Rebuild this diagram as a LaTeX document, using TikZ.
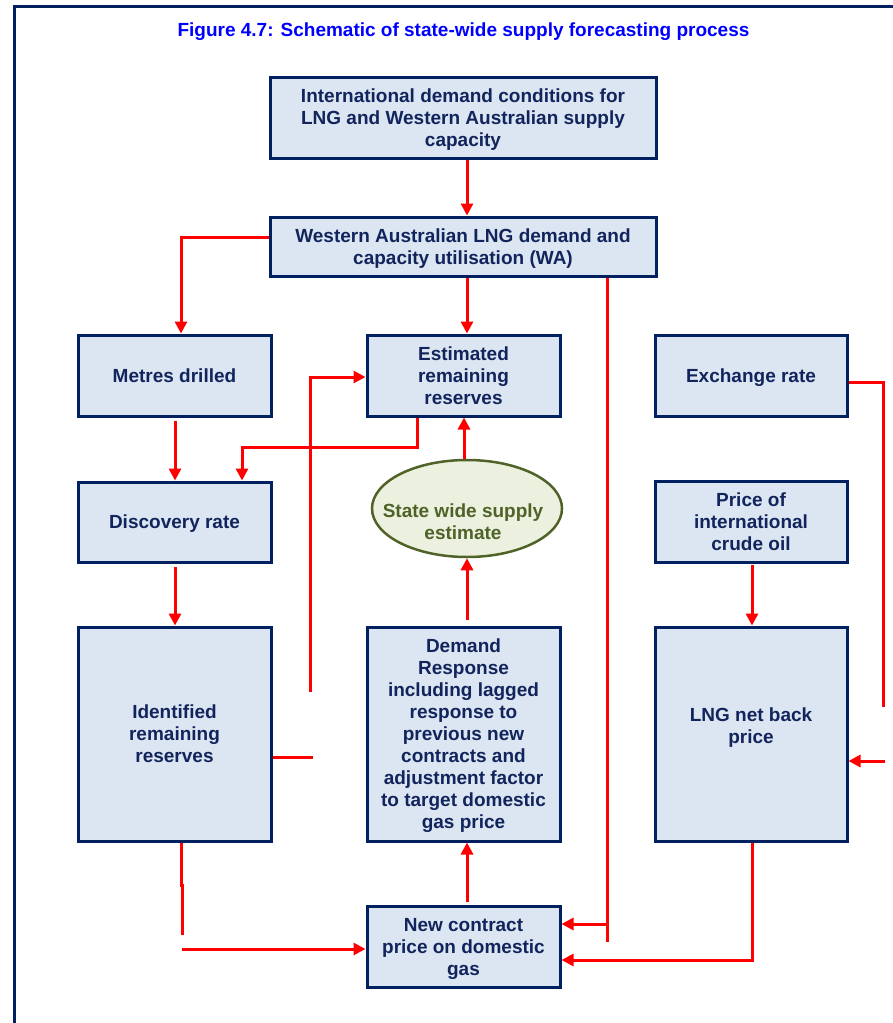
\documentclass[tikz,border=0pt]{standalone}
\usepackage{fontspec}
\setmainfont{Liberation Sans}
\usetikzlibrary{arrows.meta,shapes.geometric}
\definecolor{navy}{RGB}{0,32,96}
\definecolor{boxfill}{RGB}{220,230,242}
\definecolor{olivec}{RGB}{79,98,40}
\definecolor{ellfill}{RGB}{235,241,222}
\definecolor{txtnavy}{RGB}{18,36,92}
\definecolor{titleblue}{RGB}{0,0,255}
\tikzset{
 box/.style={draw=navy, line width=3pt, fill=boxfill, text=txtnavy,
   font=\fontsize{19}{22}\selectfont\bfseries, align=center, inner sep=0pt, text depth=-1.5pt},
 conn/.style={draw=red, line width=3pt},
 arr/.style={conn, -{Triangle[length=12pt,width=12pt]}},
}
\begin{document}
\begin{tikzpicture}[x=1pt,y=-1pt]
\useasboundingbox (0,0) rectangle (893,1023);
\draw[navy, line width=3pt] (14.5,1030) -- (14.5,6) -- (900,6);
\node[text=titleblue, font=\fontsize{19}{21}\selectfont\bfseries] (title) at (463.5,32)
  {Figure 4.7: Schematic of state-wide supply forecasting process};
% boxes
\node[box, minimum width=386pt, minimum height=81pt] (b1) at (463,117.5)
  {International demand conditions for\\LNG and Western Australian supply\\capacity};
\node[box, minimum width=386pt, minimum height=59pt] (b2) at (463,246.5)
  {Western Australian LNG demand and\\capacity utilisation (WA)};
\node[box, minimum width=193pt, minimum height=81pt] (metres) at (174.5,375.5) {Metres drilled};
\node[box, minimum width=193pt, minimum height=81pt] (est) at (463.5,375.5) {Estimated\\remaining\\reserves};
\node[box, minimum width=192pt, minimum height=81pt] (exch) at (751,375.5) {Exchange rate};
\node[box, minimum width=193pt, minimum height=80pt] (disc) at (174.5,522) {Discovery rate};
\node[box, minimum width=192pt, minimum height=81pt] (price) at (751,521.5) {Price of\\international\\crude oil};
\node[box, minimum width=193pt, minimum height=214pt] (ident) at (174.5,734) {Identified\\remaining\\reserves};
\node[box, minimum width=193pt, minimum height=214pt] (demand) at (463.5,734)
  {Demand\\Response\\including lagged\\response to\\previous new\\contracts and\\adjustment factor\\to target domestic\\gas price};
\node[box, minimum width=192pt, minimum height=214pt, text depth=16pt] (lng) at (751,734) {LNG net back\\price};
\node[box, minimum width=193pt, minimum height=81pt] (newc) at (463.5,946.5) {New contract\\price on domestic\\gas};
\node[ellipse, draw=olivec, line width=2.5pt, fill=ellfill, inner sep=0pt,
  minimum width=190pt, minimum height=97pt] (ell) at (467,508.5) {};
\node[text=olivec, align=center, inner sep=0pt,
  font=\fontsize{19}{22}\selectfont\bfseries] (elltext) at (463,522) {State wide supply\\estimate};
% connectors
\draw[arr] (467,0 |- b1.south) -- (467,0 |- b2.north);
\draw[arr] (b2.west |- 0,237) -| (181,0 |- metres.north);
\draw[arr] (467,0 |- b2.south) -- (467,0 |- est.north);
\coordinate (waend) at (607,942);
\draw[conn] (607,0 |- b2.south) -- (waend);
\draw[arr] (607,924) -- (newc.east |- 0,924);
\draw[arr] (175,421) -- (175,0 |- disc.north);
\draw[arr] (417,0 |- est.south) -- (417,447) -| (242,0 |- disc.north);
\draw[arr] (464,0 |- ell.north) -- (464,0 |- est.south);
\coordinate (fbend) at (310,692);
\draw[arr] (fbend) |- (est.west |- 0,377);
\coordinate (segA) at (273,757);
\coordinate (segB) at (313,757);
\draw[conn] (segA) -- (segB);
\draw[arr] (175,567) -- (175,0 |- ident.north);
\draw[arr] (467,620) -- (467,0 |- ell.south);
\draw[arr] (467,902) -- (467,0 |- demand.south);
\coordinate (idend) at (182,935);
\draw[conn] (181,843) -- (181,885) -- (182,885) -- (idend);
\coordinate (idstart) at (182,949);
\draw[arr] (idstart) -- (newc.west |- 0,949);
\coordinate (exend) at (883,707);
\draw[conn] (exch.east |- 0,382) -| (exend);
\coordinate (lngstart) at (885,761);
\draw[arr] (lngstart) -- (lng.east |- 0,761);
\draw[arr] (752,565) -- (752,0 |- lng.north);
\draw[arr] (752,843) |- (newc.east |- 0,960);
\end{tikzpicture}
\end{document}
